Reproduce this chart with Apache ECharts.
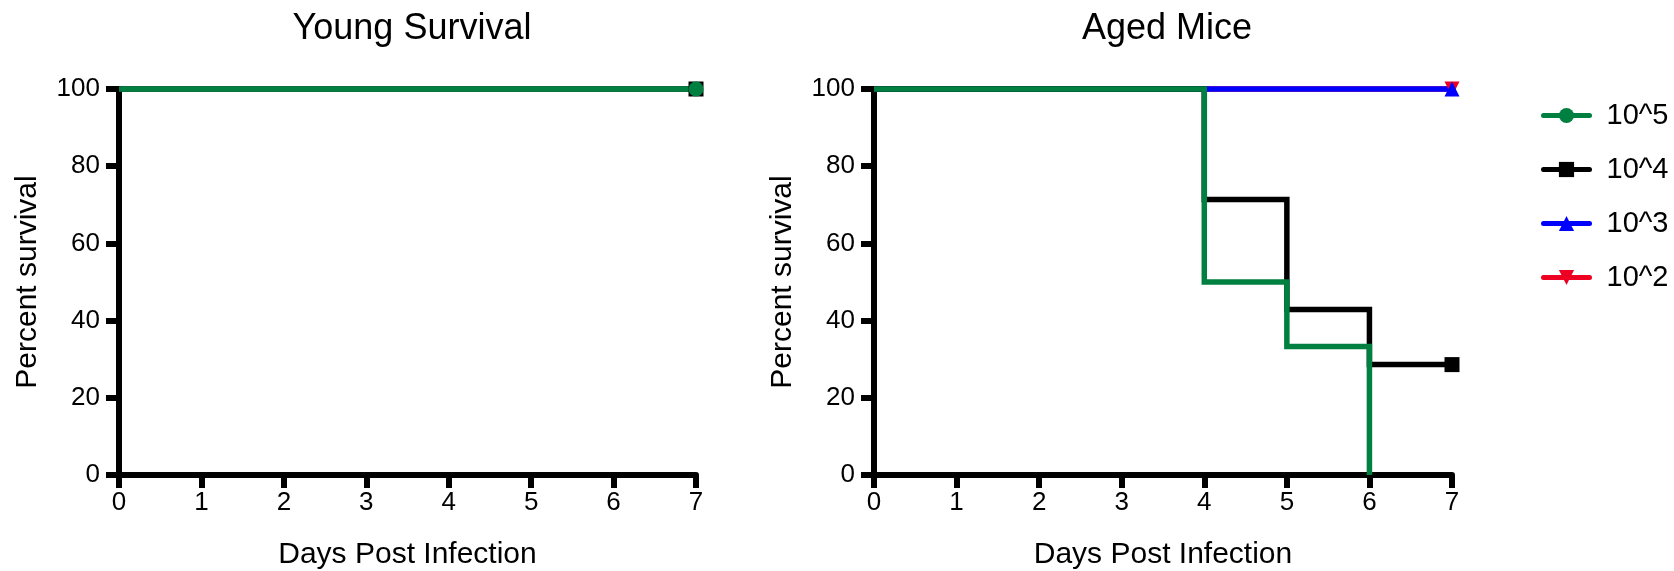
<!DOCTYPE html>
<html>
<head>
<meta charset="utf-8">
<script src="https://cdn.jsdelivr.net/npm/echarts@6/dist/echarts.min.js"></script>
<style>html,body{margin:0;padding:0;background:#fff;}#c{width:1674px;height:571px;}</style>
</head>
<body>
<div id="c"></div>
<script>
const titles = ['Young Survival', 'Aged Mice'];
const xName = 'Days Post Infection';
const yName = 'Percent survival';
const seriesNames = ['10^5', '10^4', '10^3', '10^2'];
const colors = {'10^5': '#008040', '10^4': '#000000', '10^3': '#0000ff', '10^2': '#ee0022'};
const symbols = {'10^5': 'circle', '10^4': 'rect', '10^3': 'triangle', '10^2': 'triangle'};
const rotations = {'10^5': 0, '10^4': 0, '10^3': 0, '10^2': 180};

// Young survival curves [day, percent]
const young_1e5 = [[0, 100], [7, 100]];
const young_1e4 = [[0, 100], [7, 100]];
// Aged mice curves [day, percent]
const aged_1e5 = [[0, 100], [4, 50], [5, 33.3], [6, 0]];
const aged_1e4 = [[0, 100], [4, 71.4], [5, 42.9], [6, 28.6], [7, 28.6]];
const aged_1e3 = [[0, 100], [7, 100]];
const aged_1e2 = [[0, 100], [7, 100]];

const FONT = "'Liberation Sans', Arial, sans-serif";

function mkData(pts, endMark) {
  return pts.map((p, i) => {
    const d = {value: p};
    if (!(i === pts.length - 1 && endMark)) d.symbol = 'none';
    return d;
  });
}
function mkSeries(name, pts, gi, endMark) {
  return {
    name: name, type: 'line', step: 'end',
    xAxisIndex: gi, yAxisIndex: gi,
    data: mkData(pts, endMark),
    symbol: symbols[name],
    showSymbol: true, showAllSymbol: true,
    symbolSize: 15, symbolRotate: rotations[name],
    clip: false,
    color: colors[name],
    lineStyle: {width: 5.5, color: colors[name], join: 'miter'},
    itemStyle: {color: colors[name], borderWidth: 0},
    emphasis: {disabled: true},
    animation: false
  };
}

const grids = [
  {left: 119, top: 89, width: 577, height: 386, outerBoundsMode: 'none', containLabel: false},
  {left: 874, top: 89, width: 578, height: 386, outerBoundsMode: 'none', containLabel: false}
];
function xAxis(gi) {
  return {
    type: 'value', gridIndex: gi, min: 0, max: 7, interval: 1,
    name: xName, nameLocation: 'middle', nameGap: 65,
    nameTextStyle: {fontFamily: FONT, fontSize: 30, color: '#000'},
    axisLine: {show: true, onZero: false, lineStyle: {color: '#000', width: 6}},
    axisTick: {show: true, length: 13, lineStyle: {color: '#000', width: 6}},
    axisLabel: {fontFamily: FONT, fontSize: 26, color: '#000', margin: 15},
    splitLine: {show: false}
  };
}
function yAxis(gi) {
  return {
    type: 'value', gridIndex: gi, min: 0, max: 100, interval: 20,
    name: yName, nameLocation: 'middle', nameGap: 76,
    nameTextStyle: {fontFamily: FONT, fontSize: 30, color: '#000'},
    axisLine: {show: true, onZero: false, lineStyle: {color: '#000', width: 6}},
    axisTick: {show: true, length: 13, lineStyle: {color: '#000', width: 6}},
    axisLabel: {fontFamily: FONT, fontSize: 26, color: '#000', margin: 19},
    splitLine: {show: false}
  };
}

const chart = echarts.init(document.getElementById('c'), null, {renderer: 'canvas'});
chart.setOption({
  backgroundColor: '#fff',
  animation: false,
  title: [
    {text: titles[0], left: 407, top: 6, textAlign: 'center',
     textStyle: {fontFamily: FONT, fontSize: 36, fontWeight: 'normal', color: '#000'}},
    {text: titles[1], left: 1162, top: 6, textAlign: 'center',
     textStyle: {fontFamily: FONT, fontSize: 36, fontWeight: 'normal', color: '#000'}}
  ],
  legend: {
    data: seriesNames, orient: 'vertical', left: 1536, top: 96,
    itemWidth: 46, itemHeight: 19, itemGap: 25,
    textStyle: {fontFamily: FONT, fontSize: 29, color: '#000', padding: [0, 0, 0, 12]},
    lineStyle: {width: 5, cap: 'round'},
    selectedMode: false
  },
  grid: grids,
  xAxis: [xAxis(0), xAxis(1)],
  yAxis: [yAxis(0), yAxis(1)],
  series: [
    mkSeries('10^4', young_1e4, 0, true),
    mkSeries('10^5', young_1e5, 0, true),
    mkSeries('10^2', aged_1e2, 1, true),
    mkSeries('10^3', aged_1e3, 1, true),
    mkSeries('10^4', aged_1e4, 1, true),
    mkSeries('10^5', aged_1e5, 1, false)
  ]
});
</script>
</body>
</html>
